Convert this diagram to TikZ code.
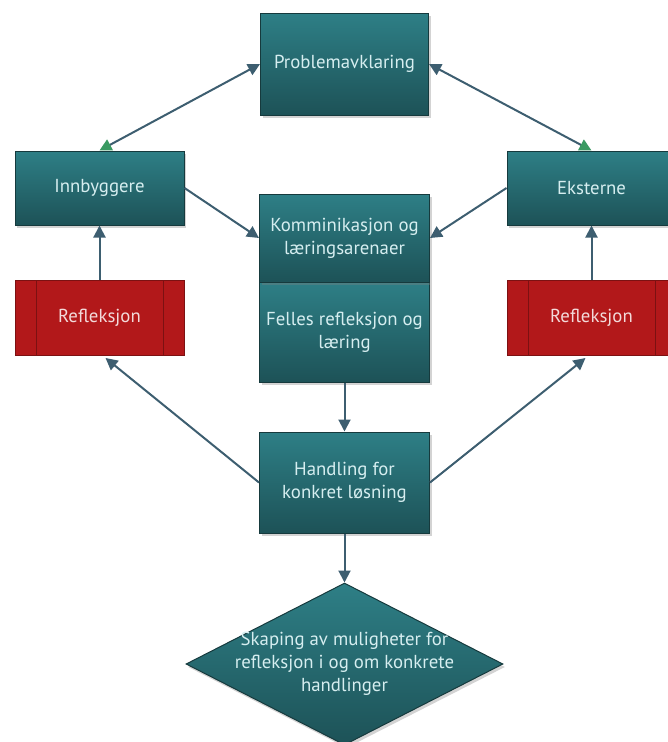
\documentclass[tikz,border=0pt]{standalone}
\usepackage{fontspec}
\setmainfont{PT Sans}
\usetikzlibrary{shapes.geometric,arrows.meta,shadows,calc}
\definecolor{tealtop}{HTML}{2E7F86}
\definecolor{tealbot}{HTML}{1D5257}
\definecolor{tealedge}{HTML}{163A3D}
\definecolor{tealtext}{HTML}{D6EEF0}
\definecolor{redfill}{HTML}{B2181A}
\definecolor{rededge}{HTML}{7C1112}
\definecolor{redtext}{HTML}{F3DADA}
\definecolor{arrowcol}{HTML}{3D5E70}
\definecolor{greenhead}{HTML}{3A9A62}
\tikzset{
  tealbox/.style={rectangle, draw=tealedge, line width=1pt, top color=tealtop, bottom color=tealbot,
    text=tealtext, align=center, inner sep=2pt, font=\fontsize{18.8}{23}\selectfont,
    drop shadow={shadow xshift=2pt, shadow yshift=-3pt, opacity=0.35}},
  redbox/.style={rectangle, draw=rededge, line width=1pt, fill=redfill, text=redtext,
    minimum width=169pt, minimum height=75pt, font=\fontsize{18.8}{23}\selectfont,
    path picture={
      \draw[rededge, line width=0.8pt] ([xshift=21pt]path picture bounding box.north west) -- ([xshift=21pt]path picture bounding box.south west);
      \draw[rededge, line width=0.8pt] ([xshift=-21pt]path picture bounding box.north east) -- ([xshift=-21pt]path picture bounding box.south east);
    }},
  conn/.style={draw=arrowcol, line width=2pt, -{Triangle[length=12pt,width=12pt]}},
  bconn/.style={draw=arrowcol, line width=2pt, {Triangle[length=12pt,width=12pt,color=greenhead]}-{Triangle[length=12pt,width=12pt]}}
}
\begin{document}
\begin{tikzpicture}[x=1pt,y=-1pt]
\useasboundingbox (0,0) rectangle (667,742);
\node[tealbox, minimum width=168pt, minimum height=102pt] (prob) at (344.5,64) {Problemavklaring};
\node[tealbox, minimum width=169pt, minimum height=74pt] (inn) at (99.5,188) {Innbyggere};
\node[tealbox, minimum width=169pt, minimum height=74pt] (eks) at (591.5,188) {Eksterne};
\node[redbox] (reflL) at (99.5,318) {Refleksjon};
\node[redbox] (reflR) at (591.5,318) {Refleksjon};
\node[tealbox, minimum width=170pt, minimum height=100pt] (fel) at (344.5,332) {Felles refleksjon og\\læring};
\node[tealbox, minimum width=170pt, minimum height=88pt] (kom) at (344.5,238) {Komminikasjon og\\læringsarenaer};
\node[tealbox, minimum width=170pt, minimum height=101pt] (han) at (344.5,482.5) {Handling for\\konkret løsning};
\node[diamond, draw=tealedge, line width=1pt, top color=tealtop, bottom color=tealbot, text=tealtext,
  align=center, inner sep=-6pt, aspect=1.95, minimum width=317pt, minimum height=162pt,
  font=\fontsize{18.8}{23}\selectfont,
  drop shadow={shadow xshift=2pt, shadow yshift=-3pt, opacity=0.35}] (dia) at (344.5,664)
  {Skaping av muligheter for\\refleksjon i og om konkrete\\handlinger};
\draw[bconn] (inn.north) -- (prob.west);
\draw[bconn] (eks.north) -- (prob.east);
\draw[conn] (inn.east) -- (kom.west);
\draw[conn] (eks.west) -- (kom.east);
\draw[conn] (reflL.north) -- (inn.south);
\draw[conn] (reflR.north) -- (eks.south);
\draw[conn] (fel.south) -- (han.north);
\draw[conn] (han.west) -- ($(reflL.south)+(6,2)$);
\draw[conn] (han.east) -- ($(reflR.south)+(-6,2)$);
\draw[conn] (han.south) -- (dia.north);
\end{tikzpicture}
\end{document}
